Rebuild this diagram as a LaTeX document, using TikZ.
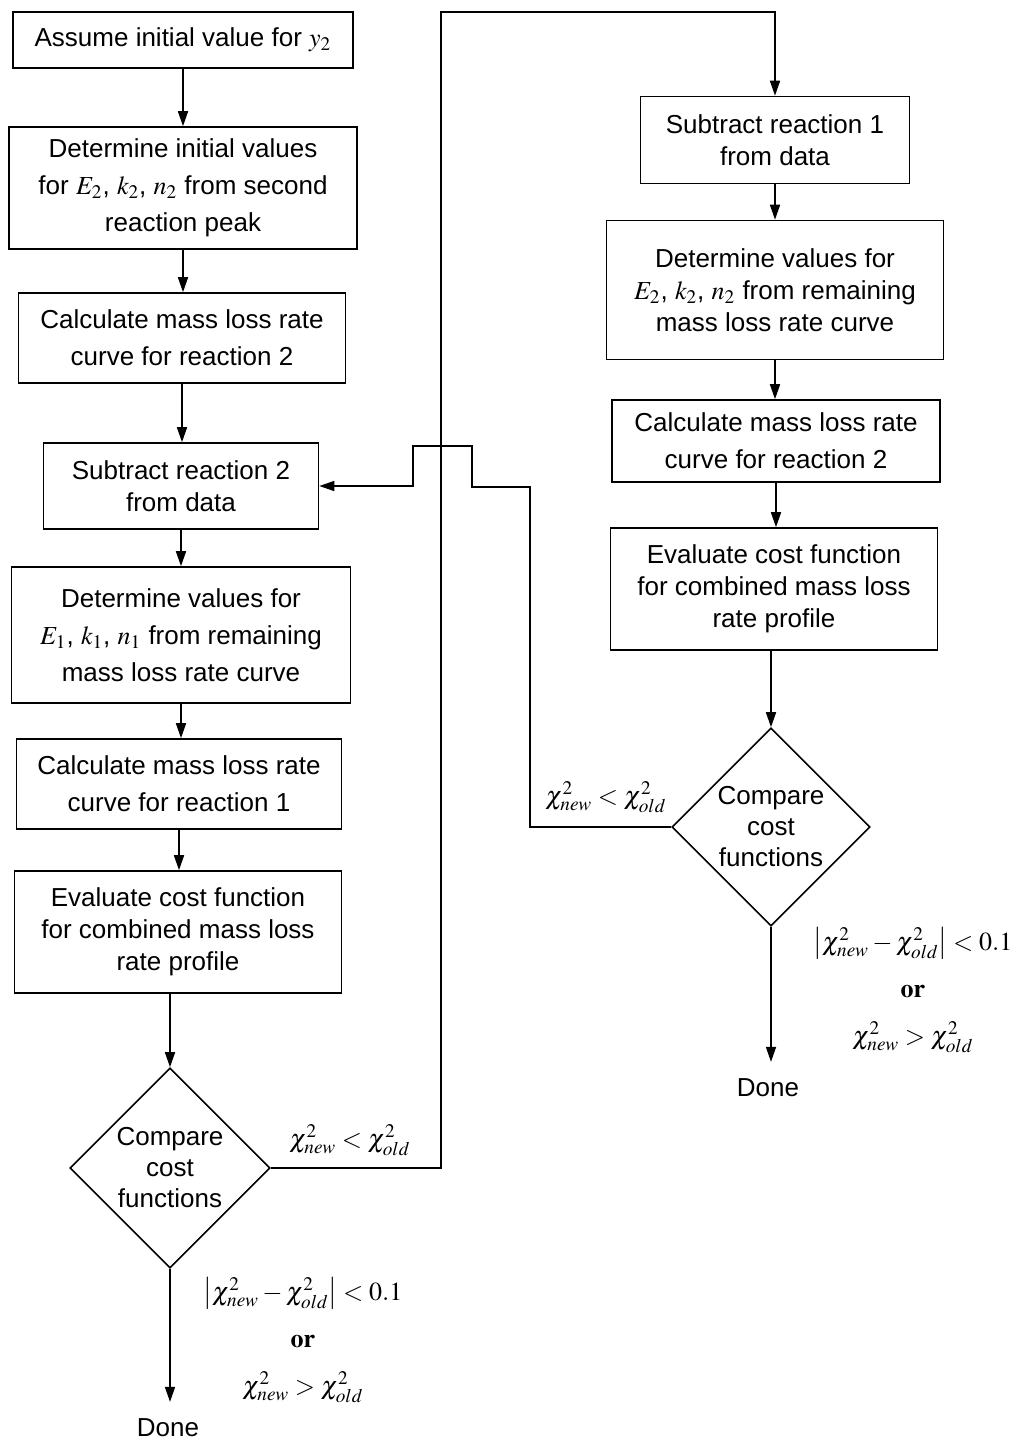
\documentclass[tikz,border=0pt]{standalone}
\usepackage{mathptmx}
\usepackage[no-math]{fontspec}
\setmainfont{Liberation Sans}
\usetikzlibrary{calc,shapes.geometric,arrows.meta}

\tikzset{
  stepbox/.style={draw, line width=0.8pt, align=center, inner sep=0pt,
    font=\fontsize{13}{16}\selectfont},
  loose/.style={font=\fontsize{13}{18.5}\selectfont},
  decide/.style={diamond, draw, line width=0.8pt, aspect=1, align=center,
    inner sep=0pt, minimum size=100pt, font=\fontsize{13}{15.5}\selectfont},
  cond/.style={align=center, inner sep=0pt, font=\fontsize{13}{23.5}\selectfont},
  flow/.style={line width=0.8pt, -{Triangle[length=7.5pt,width=5pt]}},
  link/.style={line width=0.8pt}
}

\begin{document}
\begin{tikzpicture}[x=0.5pt,y=-0.5pt]
  \useasboundingbox (0,0) rectangle (1016,1441);

  %% Left column: first pass
  \node[stepbox, minimum width=170pt, minimum height=28pt] (B1) at (183,40)
    {Assume initial value for $y_2$};
  \node[stepbox, loose, minimum width=174pt, minimum height=61pt] (B2) at (183,188)
    {Determine initial values\\ for $E_2$, $k_2$, $n_2$ from second\\ reaction peak};
  \node[stepbox, loose, minimum width=163.5pt, minimum height=45pt] (B3) at (182,338)
    {Calculate mass loss rate\\ curve for reaction 2};
  \node[stepbox, minimum width=137.5pt, minimum height=43pt] (B4) at (181,486)
    {Subtract reaction 2\\ from data};
  \node[stepbox, loose, minimum width=169.5pt, minimum height=68pt] (B5) at (181,635)
    {Determine values for\\ $E_1$, $k_1$, $n_1$ from remaining\\ mass loss rate curve};
  \node[stepbox, loose, minimum width=162.5pt, minimum height=45pt] (B6) at (179,784)
    {Calculate mass loss rate\\ curve for reaction 1};
  \node[stepbox, minimum width=163.5pt, minimum height=61pt] (B7) at (178,932)
    {Evaluate cost function\\ for combined mass loss\\ rate profile};
  \node[decide] (D1) at (170,1168) {Compare\\ cost\\ functions};
  \node[font=\fontsize{13}{14}\selectfont] (Done1) at (168,1428) {Done};

  %% Right column: second pass
  \node[stepbox, minimum width=134.5pt, minimum height=43.5pt] (R1) at (775,140)
    {Subtract reaction 1\\ from data};
  \node[stepbox, minimum width=168.5pt, minimum height=69.5pt] (R2) at (775,290)
    {Determine values for\\ $E_2$, $k_2$, $n_2$ from remaining\\ mass loss rate curve};
  \node[stepbox, loose, minimum width=164pt, minimum height=41pt] (R3) at (776,441)
    {Calculate mass loss rate\\ curve for reaction 2};
  \node[stepbox, minimum width=163.5pt, minimum height=61pt] (R4) at (774,589)
    {Evaluate cost function\\ for combined mass loss\\ rate profile};
  \node[decide, minimum size=99pt] (D2) at (771,827) {Compare\\ cost\\ functions};
  \node[font=\fontsize{13}{14}\selectfont] (Done2) at (768,1088) {Done};

  %% Straight arrows
  \foreach \a/\b in {B1/B2, B2/B3, B3/B4, B4/B5, B5/B6, B6/B7, R1/R2, R2/R3, R3/R4}
    \draw[flow] (\a.south) -- (\a.south |- \b.north);
  \draw[flow] (B7.south -| D1.north) -- (D1.north);
  \draw[flow] (R4.south -| D2.north) -- (D2.north);
  \draw[flow, shorten >=5pt] (D1.south) -- (D1.south |- Done1.north);
  \draw[flow, shorten >=5pt] (D2.south) -- (D2.south |- Done2.north);

  %% Loop from the first comparison to the second pass
  \coordinate (topTurn) at (441,12);
  \draw[flow] (D1.east) -| (topTurn) -| (R1.north);

  %% Loop from the second comparison back to reaction 2
  \coordinate (jogA) at (530,487);
  \coordinate (jogB) at (472,487);
  \coordinate (jogC) at (413,446);
  \draw[flow] (D2.west) -| (jogA) -- (jogB) |- (jogC) |- (B4.east);

  %% Branch labels
  \node[cond] (less1) at (350,1140) {$\chi^2_{new} < \chi^2_{old}$};
  \node[cond] (less2) at (606,797) {$\chi^2_{new} < \chi^2_{old}$};
  \node[cond] (stop1) at (303,1340)
    {$\left|\chi^2_{new}-\chi^2_{old}\right| < 0.1$\\ $\mathbf{or}$\\ $\chi^2_{new} > \chi^2_{old}$};
  \node[cond] (stop2) at (913,990)
    {$\left|\chi^2_{new}-\chi^2_{old}\right| < 0.1$\\ $\mathbf{or}$\\ $\chi^2_{new} > \chi^2_{old}$};
\end{tikzpicture}
\end{document}
